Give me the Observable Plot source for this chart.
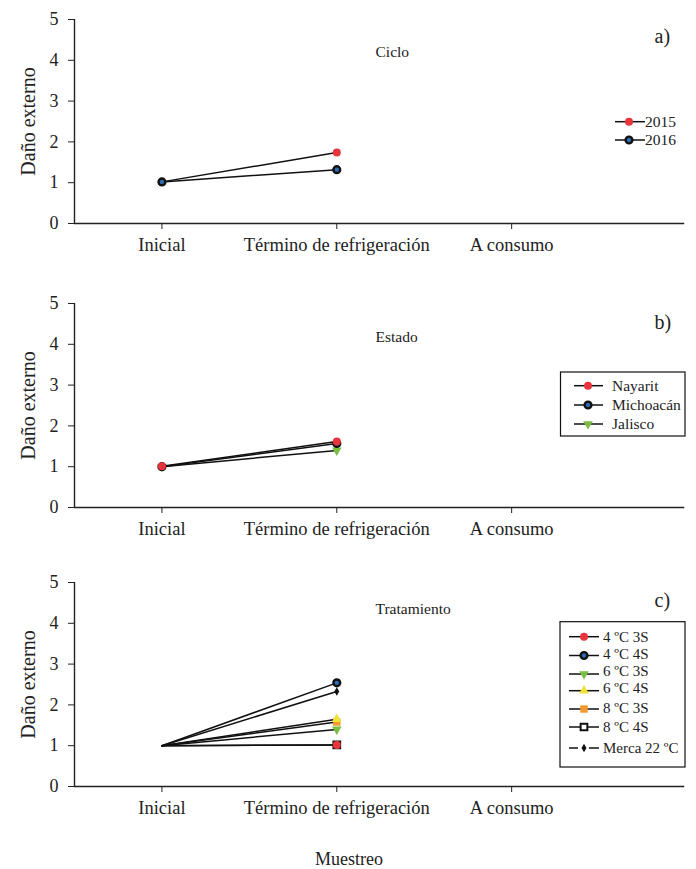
<!DOCTYPE html>
<html><head><meta charset="utf-8">
<script src="https://cdn.jsdelivr.net/npm/d3@7"></script>
<script src="https://cdn.jsdelivr.net/npm/@observablehq/plot@0.6"></script>
<style>
body{margin:0;background:#fff;font-family:"Liberation Serif","Times New Roman",serif;}
#wrap{position:relative;width:696px;height:869px;overflow:hidden;}
.panel{position:absolute;left:0;}
#xlabel{position:absolute;left:0;width:698px;text-align:center;top:849px;line-height:20px;font-size:18px;color:#222;}
svg text{font-family:"Liberation Serif","Times New Roman",serif;}
</style></head>
<body>
<div id="wrap">
  <div class="panel" id="pa" style="top:0px"></div>
  <div class="panel" id="pb" style="top:284px"></div>
  <div class="panel" id="pc" style="top:563px"></div>
  <div id="xlabel">Muestreo</div>
</div>
<script>
// ---- data ----
const muestreo = ["Inicial", "Término de refrigeración", "A consumo"];
const yTicks = [0, 1, 2, 3, 4, 5];
const yLabel = "Daño externo";
const panelTitles = ["Ciclo", "Estado", "Tratamiento"];
const panelTags = ["a)", "b)", "c)"];

const cicloNames = ["2015", "2016"];
const ciclo2015 = [1.02, 1.74];
const ciclo2016 = [1.02, 1.32];

const estadoNames = ["Nayarit", "Michoacán", "Jalisco"];
const nayarit = [1.01, 1.62];
const michoacan = [1.00, 1.57];
const jalisco = [1.00, 1.40];

const tratNames = ["4 ºC 3S", "4 ºC 4S", "6 ºC 3S", "6 ºC 4S", "8 ºC 3S", "8 ºC 4S", "Merca 22 ºC"];
const t4c3s = [1.00, 1.02];
const t4c4s = [1.00, 2.54];
const t6c3s = [1.00, 1.40];
const t6c4s = [1.00, 1.65];
const t8c3s = [1.00, 1.58];
const t8c4s = [1.00, 1.02];
const merca22 = [1.00, 2.33];

// ---- styles ----
const triDown = {
  draw(ctx, size) {
    const y = -Math.sqrt(size / (Math.sqrt(3) * 3));
    const s = Math.sqrt(3);
    ctx.moveTo(0, -y * 2);
    ctx.lineTo(-s * y, y);
    ctx.lineTo(s * y, y);
    ctx.closePath();
  }
};
const RED = {symbol: d3.symbolCircle, r: 4, fill: "#e8343c", stroke: "none", sw: 0};
const BLUE = {symbol: d3.symbolCircle, r: 3.4, fill: "#2e6db4", stroke: "#111", sw: 2.4};
const GREEN = {symbol: triDown, r: 3.6, fill: "#7cbd43", stroke: "none", sw: 0};
const YELLOW = {symbol: d3.symbolTriangle, r: 3.6, fill: "#efe33a", stroke: "none", sw: 0};
const ORANGE = {symbol: d3.symbolSquare, r: 4.2, fill: "#f39a2c", stroke: "none", sw: 0};
const WSQ = {symbol: d3.symbolSquare, r: 3.8, fill: "#fff", stroke: "#111", sw: 2};
const DIAM = {symbol: d3.symbolDiamond, r: 2.6, fill: "#111", stroke: "none", sw: 0};

const FONT = "'Liberation Serif', 'Times New Roman', serif";

function buildPanel(el, cfg) {
  const marks = [
    Plot.ruleX([0.5], {y1: 0, y2: 5, stroke: "#222", strokeWidth: 1.4}),
    Plot.ruleY([0], {x1: 0.5, x2: 3.99, stroke: "#222", strokeWidth: 1.4}),
    Plot.axisY(yTicks, {tickSize: 6, tickPadding: 10, fontSize: 18, label: null, stroke: "#222"}),
    Plot.axisX([1, 2, 3], {tickSize: 6, tickPadding: 8, fontSize: 18.5, label: null, tickFormat: d => muestreo[d - 1], stroke: "#222"}),
    Plot.text([yLabel], {frameAnchor: "left", dx: -46, rotate: -90, textAnchor: "middle", lineAnchor: "middle", fontSize: 20, fill: "#222"}),
    Plot.text([cfg.title], {frameAnchor: "top-left", dx: 301, dy: cfg.titleDy, textAnchor: "start", lineAnchor: "middle", fontSize: 15.5, fill: "#222"}),
    Plot.text([cfg.tag], {frameAnchor: "top-left", dx: 580, dy: cfg.tagDy, textAnchor: "start", lineAnchor: "middle", fontSize: 20, fill: "#222"})
  ];
  for (const s of cfg.series) {
    const pts = s.values.map((v, i) => ({x: i + 1, y: v}));
    marks.push(Plot.line(pts, {x: "x", y: "y", stroke: "#111", strokeWidth: 1.5}));
  }
  for (const s of cfg.drawOrder.map(i => cfg.series[i])) {
    const pts = s.values.map((v, i) => ({x: i + 1, y: v})).filter(d => cfg.initialMarkers || d.x !== 1);
    marks.push(Plot.dot(pts, {x: "x", y: "y", symbol: s.style.symbol, r: s.style.r, fill: s.style.fill, stroke: s.style.stroke, strokeWidth: s.style.sw}));
  }
  const svg = Plot.plot({
    width: 696, height: 282,
    marginLeft: 74, marginRight: 10, marginTop: 19, marginBottom: 59,
    style: {fontFamily: FONT, color: "#222", background: "transparent", overflow: "visible"},
    x: {type: "linear", domain: [0.5, 4], axis: null},
    y: {domain: [0, 5], axis: null},
    marks
  });
  // legend
  const fs = cfg.legend.fontSize || 15.5;
  const g = d3.select(svg).append("g")
    .attr("font-family", FONT).attr("font-size", fs).attr("fill", "#222").attr("text-anchor", "start");
  const L = cfg.legend;
  if (L.box) {
    g.append("rect").attr("x", L.box[0]).attr("y", L.box[1]).attr("width", L.box[2]).attr("height", L.box[3])
      .attr("fill", "none").attr("stroke", "#111").attr("stroke-width", 1.2);
  }
  cfg.series.forEach((s, i) => {
    const ly = L.lineY[i], ty = L.textY[i];
    if (s.dashedLegend) {
      g.append("line").attr("x1", L.x0).attr("x2", L.mx - 6).attr("y1", ly).attr("y2", ly).attr("stroke", "#111").attr("stroke-width", 1.5);
      g.append("line").attr("x1", L.mx + 5).attr("x2", L.x1).attr("y1", ly).attr("y2", ly).attr("stroke", "#111").attr("stroke-width", 1.5);
    } else {
      g.append("line").attr("x1", L.x0).attr("x2", L.x1).attr("y1", ly).attr("y2", ly).attr("stroke", "#111").attr("stroke-width", 1.5);
    }
    const st = s.style;
    g.append("path").attr("d", d3.symbol(st.symbol, Math.PI * st.r * st.r)())
      .attr("transform", `translate(${L.mx},${ly})`)
      .attr("fill", st.fill).attr("stroke", st.stroke).attr("stroke-width", st.sw);
    g.append("text").attr("x", L.tx).attr("y", ty).attr("dy", "0.35em")
      .attr("style", `font-family:${FONT};font-size:${fs}px;text-anchor:start`).text(s.name);
  });
  el.appendChild(svg);
}

buildPanel(document.getElementById("pa"), {
  title: panelTitles[0], tag: panelTags[0], titleDy: 33, tagDy: 17, initialMarkers: true,
  series: [
    {name: cicloNames[0], values: ciclo2015, style: RED},
    {name: cicloNames[1], values: ciclo2016, style: BLUE}
  ],
  drawOrder: [0, 1],
  legend: {x0: 615, x1: 645, mx: 629, tx: 645, lineY: [121.7, 140], textY: [121.7, 140]}
});

buildPanel(document.getElementById("pb"), {
  title: panelTitles[1], tag: panelTags[1], titleDy: 33.7, tagDy: 18.7, initialMarkers: true,
  series: [
    {name: estadoNames[0], values: nayarit, style: RED},
    {name: estadoNames[1], values: michoacan, style: BLUE},
    {name: estadoNames[2], values: jalisco, style: GREEN}
  ],
  drawOrder: [2, 1, 0],
  legend: {box: [560.5, 88, 124.5, 64], x0: 574, x1: 603, mx: 588, tx: 612, lineY: [101.7, 121, 140], textY: [101.7, 121, 140]}
});

buildPanel(document.getElementById("pc"), {
  title: panelTitles[2], tag: panelTags[2], titleDy: 26.3, tagDy: 18, initialMarkers: false,
  series: [
    {name: tratNames[0], values: t4c3s, style: RED},
    {name: tratNames[1], values: t4c4s, style: BLUE},
    {name: tratNames[2], values: t6c3s, style: GREEN},
    {name: tratNames[3], values: t6c4s, style: YELLOW},
    {name: tratNames[4], values: t8c3s, style: ORANGE},
    {name: tratNames[5], values: t8c4s, style: WSQ},
    {name: tratNames[6], values: merca22, style: DIAM, dashedLegend: true}
  ],
  drawOrder: [2, 4, 3, 5, 0, 6, 1],
  legend: {box: [560, 58.7, 125, 145.3], x0: 569, x1: 599, mx: 584, tx: 603, fontSize: 15,
    lineY: [73.7, 92.5, 111, 127.7, 146, 164, 185], textY: [74, 91, 108, 125, 145, 164, 185]}
});
</script>
</body></html>
